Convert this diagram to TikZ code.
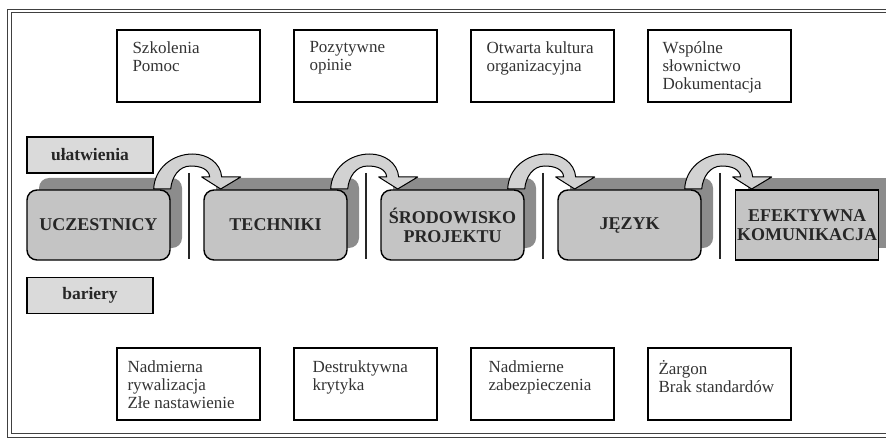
\documentclass[tikz,border=0pt]{standalone}
\usepackage{fontspec}
\setmainfont{Liberation Serif}
\usetikzlibrary{shadows}
\definecolor{boxgray}{HTML}{C4C4C4}
\definecolor{shadegray}{HTML}{8C8C8C}
\definecolor{tabgray}{HTML}{DADADA}
\definecolor{arrowgray}{HTML}{D2D2D2}
\begin{document}
\begin{tikzpicture}[x=1pt, y=1pt,
  flowbox/.style={draw, line width=1.4pt, fill=boxgray, minimum width=143pt, minimum height=70pt,
    inner sep=0pt, align=center, text=black!85, font=\fontsize{18}{19}\selectfont\bfseries},
  roundbox/.style={flowbox, rounded corners=10pt,
    general shadow={fill=shadegray, shadow xshift=12pt, shadow yshift=12pt}},
  tabbox/.style={draw, line width=1.3pt, fill=tabgray, minimum width=126pt, minimum height=36pt,
    inner sep=0pt, text=black!85, font=\fontsize{17.5}{18}\selectfont\bfseries},
  infobox/.style={draw, line width=1.4pt, minimum width=143pt, minimum height=72pt, inner sep=0pt},
  infotext/.style={anchor=north west, align=left, inner sep=0pt, text=black!80,
    font=\fontsize{17}{18}\selectfont},
  sepline/.style={line width=2.4pt, black!85},
  bendarrow/.pic={
    \draw[fill=arrowgray, line width=1pt, line join=round]
      (-35,-4) to[out=88,in=180] (4,31) to[out=0,in=95] (33,8) -- (52,8) -- (32,-4)
      -- (13,8) -- (21,8) to[out=95,in=0] (2,19) to[out=180,in=85] (-18,-4) -- cycle;
  }]
  \useasboundingbox (0,0) rectangle (886,437);

  % Frame
  \draw[line width=1pt, double, double distance=2.6pt, black!75] (890,426) -- (9.5,426) -- (9.5,1.8) -- (890,1.8);

  % Top row: facilitators
  \node[infobox] (szkol) at (188.5,371) {};
  \node[infobox] (pozyt) at (365.5,371) {};
  \node[infobox] (otw)   at (542.5,371) {};
  \node[infobox] (wsp)   at (719.5,371) {};
  \node[infotext] (szkolt) at ([xshift=16pt,yshift=-12pt]szkol.north west) {Szkolenia\\Pomoc};
  \node[infotext] (pozytt) at ([xshift=16pt,yshift=-12pt]pozyt.north west) {Pozytywne\\opinie};
  \node[infotext] (otwt)   at ([xshift=16pt,yshift=-12pt]otw.north west) {Otwarta kultura\\organizacyjna};
  \node[infotext] (wspt)   at ([xshift=15pt,yshift=-12pt]wsp.north west) {Wspólne\\słownictwo\\Dokumentacja};

  % Side labels
  \node[tabbox] (ulatw) at (90,282) {ułatwienia};
  \node[tabbox] (bar)   at (90,141.5) {bariery};

  % Main chain
  \fill[shadegray] (748,189) rectangle (886,259);
  \node[roundbox] (ucz)   at (98.5,212)  {UCZESTNICY};
  \node[roundbox] (tech)  at (275.5,212) {TECHNIKI};
  \node[roundbox] (srod)  at (452.5,212) {ŚRODOWISKO\\PROJEKTU};
  \node[roundbox] (jez)   at (629.5,212) {JĘZYK};
  \node[flowbox]  (efekt) at (807,212)   {EFEKTYWNA\\KOMUNIKACJA};

  % Separators and bent arrows
  \coordinate (gap1) at ([xshift=18pt]ucz.east);
  \coordinate (gap2) at ([xshift=18pt]tech.east);
  \coordinate (gap3) at ([xshift=18pt]srod.east);
  \coordinate (gap4) at ([xshift=18pt]jez.east);
  \draw[sepline] ([yshift=52pt]gap1) -- ([yshift=-34pt]gap1);
  \draw[sepline] ([yshift=52pt]gap2) -- ([yshift=-34pt]gap2);
  \draw[sepline] ([yshift=52pt]gap3) -- ([yshift=-34pt]gap3);
  \draw[sepline] ([yshift=52pt]gap4) -- ([yshift=-34pt]gap4);
  \pic at ([yshift=40pt]gap1) {bendarrow};
  \pic at ([yshift=40pt]gap2) {bendarrow};
  \pic at ([yshift=40pt]gap3) {bendarrow};
  \pic at ([yshift=40pt]gap4) {bendarrow};

  % Bottom row: barriers
  \node[infobox] (nadm)   at (188.5,53) {};
  \node[infobox] (destr)  at (365.5,53) {};
  \node[infobox] (zabezp) at (542.5,53) {};
  \node[infobox] (zarg)   at (719.5,53) {};
  \node[infotext] (nadmt)   at ([xshift=11pt,yshift=-13pt]nadm.north west) {Nadmierna\\rywalizacja\\Złe nastawienie};
  \node[infotext] (destrt)  at ([xshift=19pt,yshift=-13pt]destr.north west) {Destruktywna\\krytyka};
  \node[infotext] (zabezpt) at ([xshift=18pt,yshift=-13pt]zabezp.north west) {Nadmierne\\zabezpieczenia};
  \node[infotext] (zargt)   at ([xshift=11pt,yshift=-13pt]zarg.north west) {Żargon\\Brak standardów};
\end{tikzpicture}
\end{document}
